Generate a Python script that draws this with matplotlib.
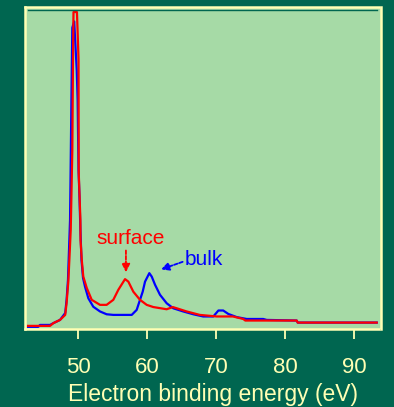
import matplotlib.pyplot as plt
import numpy as np

plt.rcParams['font.family'] = ['Liberation Sans', 'DejaVu Sans']

# colours
bg_green = '#006650'
face_green = '#a6daa6'
cream = '#ffffb4'

# surface-sensitive spectrum (red), binding energy in eV and intensity (peak = 100)
red_energy = [42.7, 45.9, 46.4, 47.35, 48.1, 48.3, 48.55, 48.7, 48.9, 49.13, 49.23, 49.3,
              49.8, 50.03, 50.06, 50.3, 50.32, 50.5, 50.72, 51.22, 51.94, 53.14, 54.1,
              55.07, 55.8, 56.77, 57.25, 57.97, 58.94, 59.91, 60.87, 62.8, 63.7, 64.7,
              65.7, 67.6, 70.06, 72.4, 73.9, 74.2, 81.65, 81.8, 93.25]
red_counts = [0, 0, 0.9, 1.9, 3.5, 7.3, 14.1, 21, 30.6, 56, 85, 100,
              100, 85, 48.7, 33.8, 27.4, 21, 15.7, 12.1, 8.3, 6.7, 6.7,
              8.3, 11.5, 14.9, 14.1, 10.9, 8.3, 6.7, 6.0, 5.3, 6.0, 5.3,
              4.6, 3.5, 3.0, 3.0, 2.2, 1.7, 1.7, 1.05, 1.05]

# bulk spectrum (blue)
blue_energy = [42.7, 44.2, 44.45, 45.9, 46.4, 47.35, 48.1, 48.3, 48.5, 48.8, 48.84, 49.0,
               49.13, 49.4, 49.77, 49.9, 50.03, 50.17, 50.3, 50.46, 50.68, 50.97, 51.45,
               52.17, 53.14, 54.1, 55.07, 57.74, 58.46, 58.94, 59.33, 59.67, 60.29, 60.64,
               61.12, 61.84, 62.81, 63.77, 65.2, 66.67, 68.1, 69.57, 70.3, 71.0, 71.74,
               72.96, 74.4, 76.8, 77.3, 81.65, 81.8, 93.25]
blue_counts = [-0.3, -0.3, 0.3, 0.3, 0.9, 1.9, 4.1, 8.3, 14.6, 33.8, 41, 72,
               95, 97, 81.5, 72, 49.7, 41, 30.6, 21, 15.3, 12.5, 8.8,
               6.1, 4.6, 3.7, 3.5, 3.5, 5.1, 8.3, 10.9, 14.1, 16.8, 15.7,
               13.1, 9.9, 7.2, 5.6, 4.6, 3.7, 3.0, 3.0, 4.9, 4.9, 3.8,
               2.8, 2.2, 2.2, 1.9, 1.7, 1.05, 1.05]

xticks = [50, 60, 70, 80, 90]

fig = plt.figure(figsize=(3.94, 4.07), dpi=100)
fig.patch.set_facecolor(bg_green)
ax = fig.add_axes([0.0622, 0.1916, 0.9048, 0.7919])
ax.set_facecolor(face_green)

ax.plot(blue_energy, blue_counts, color='#0000ff', lw=1.6)
ax.plot(red_energy, red_counts, color='#ff0000', lw=1.6)

# thin dark line just under the top edge
ax.axhline(100.6, xmin=0.01, xmax=0.99, color=bg_green, lw=1)

ax.set_xlim(42.2, 93.87)
ax.set_ylim(-1.0, 101.7)

# labels with arrows
ax.annotate('', xy=(56.9, 16.2), xytext=(56.9, 24.9),
            arrowprops=dict(arrowstyle='-|>', color='#ff0000', lw=1.3,
                            linestyle=(0, (2, 1)), mutation_scale=12))
ax.text(57.6, 28.0, 'surface', color='#ff0000', fontsize=15,
        ha='center', va='center')
ax.annotate('', xy=(61.6, 17.7), xytext=(65.5, 20.7),
            arrowprops=dict(arrowstyle='-|>', color='#0000ff', lw=1.3,
                            linestyle=(0, (2, 1)), mutation_scale=12))
ax.text(68.2, 21.0, 'bulk', color='#0000ff', fontsize=15,
        ha='center', va='center')

for side in ['left', 'right', 'top', 'bottom']:
    ax.spines[side].set_color(cream)
    ax.spines[side].set_linewidth(1.8)
    ax.spines[side].set_linestyle((0, (1.5, 1)))

ax.set_yticks([])
ax.set_xticks(xticks)
ax.tick_params(axis='x', length=0, pad=20, labelcolor=cream, labelsize=16)

# tick marks below the frame, drawn by hand so they show on the dark background
xform = ax.get_xaxis_transform()
for t in xticks:
    ax.plot([t, t], [-0.003, -0.03], transform=xform, clip_on=False,
            color=cream, lw=1.3, solid_capstyle='butt')

ax.set_xlabel('Electron binding energy (eV)', color=cream, fontsize=16.5)
ax.xaxis.set_label_coords(0.529, -0.168)

fig.savefig('out.png', dpi=100, facecolor=bg_green)
